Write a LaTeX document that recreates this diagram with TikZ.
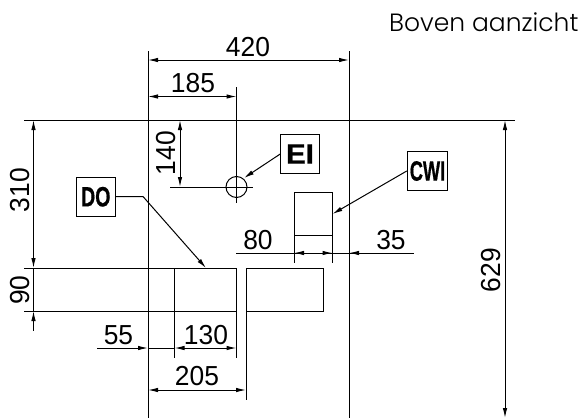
\documentclass[tikz,border=0pt]{standalone}
\usepackage{fontspec}
\usetikzlibrary{arrows.meta}
\setmainfont[FakeStretch=0.96]{Liberation Sans}
\newfontfamily\titlefont[UprightFont={* Light}]{Poppins}
\newfontfamily\tagfont[FakeStretch=0.7,FakeBold=0.6]{Liberation Sans Bold}
\newfontfamily\tagwide[FakeStretch=1.05,FakeBold=0.6]{Liberation Sans Bold}
\newfontfamily\tagnarrow[FakeStretch=0.65,FakeBold=0.6]{Liberation Sans Bold}
\tikzset{
  part/.style={draw=black,line width=1pt},
  dimline/.style={draw=black,line width=1pt},
  dimarrow/.style={dimline,{Latex[length=10pt,width=4.5pt]}-{Latex[length=10pt,width=4.5pt]}},
  endarrow/.style={dimline,-{Latex[length=10pt,width=4.5pt]}},
  dimtext/.style={inner sep=0pt,font=\fontsize{27.5}{27.5}\selectfont},
  tagbox/.style={draw=black,line width=1pt,inner sep=0pt,minimum height=38.5pt},
  titletext/.style={inner sep=0pt,font=\fontsize{25}{25}\selectfont\titlefont}
}
\begin{document}
\begin{tikzpicture}[x=1pt,y=-1pt]
\useasboundingbox (0,0) rectangle (584,418);
% reference axes
\coordinate (L1) at (148,51);   \coordinate (L2) at (148,418);
\coordinate (R1) at (349,51);   \coordinate (R2) at (349,418);
\coordinate (T1) at (24,120);   \coordinate (T2) at (515,120);
\draw[part] (L1) -- (L2);
\draw[part] (R1) -- (R2);
\draw[part] (T1) -- (T2);
% lower plates
\coordinate (PA) at (24,268);  \coordinate (PB) at (236.5,268);
\coordinate (PC) at (24,311);  \coordinate (PD) at (236.5,311);
\coordinate (PE) at (246,268); \coordinate (PF) at (323,311);
\coordinate (PG) at (174.5,268); \coordinate (PH) at (174.5,358);
\coordinate (PI) at (236.5,358); \coordinate (PJ) at (246,400);
\draw[part] (PA) -- (PB);
\draw[part] (PC) -- (PD);
\draw[part] (PG) -- (PH);
\draw[part] (PB) -- (PI);
\draw[part] (PE) -- (PJ);
\draw[part] (PE) rectangle (PF);
% upper box
\coordinate (U1) at (294,192); \coordinate (U2) at (332.5,235);
\coordinate (U3) at (294,263); \coordinate (U4) at (332.5,263);
\coordinate (U6) at (294,235);
\draw[part] (U1) rectangle (U2);
\draw[part] (U6) -- (U3);
\draw[part] (U2) -- (U4);
% hole
\coordinate (C) at (236.5,187);
\node[draw=black,line width=1pt,circle,minimum size=21pt,inner sep=0pt] (hole) at (C) {};
\coordinate (CT) at (236.5,87); \coordinate (CB) at (236.5,203);
\coordinate (CL) at (170,187);  \coordinate (CR) at (253,187);
\draw[part] (CT) -- (CB);
\draw[part] (CL) -- (CR);
% dimension 420 and 185
\coordinate (d420a) at (148,60);   \coordinate (d420b) at (349,60);
\coordinate (d185a) at (148,96.5); \coordinate (d185b) at (236.5,96.5);
\draw[dimarrow] (d420a) -- (d420b);
\draw[dimarrow] (d185a) -- (d185b);
\node[dimtext] (t420) at (248,47) {420};
\node[dimtext] (t185) at (193,83) {185};
% dimension 140
\coordinate (d140a) at (180,120); \coordinate (d140b) at (180,187);
\draw[dimarrow] (d140a) -- (d140b);
\node[dimtext,rotate=90] (t140) at (166.5,153) {140};
% dimension 310, 90
\coordinate (d310a) at (33.5,120); \coordinate (d310b) at (33.5,268);
\coordinate (d90a) at (33.5,311);  \coordinate (d90b) at (33.5,331);
\draw[dimarrow] (d310a) -- (d310b);
\draw[dimline] (d310b) -- (d90a);
\draw[dimline,{Latex[length=10pt,width=4.5pt]}-] (d90a) -- (d90b);
\node[dimtext,rotate=90] (t310) at (20,190) {310};
\node[dimtext,rotate=90] (t90) at (20,290) {90};
% dimension 629
\coordinate (d629a) at (505,120); \coordinate (d629b) at (505,418);
\draw[dimarrow] (d629a) -- (d629b);
\node[dimtext,rotate=90] (t629) at (491,270) {629};
% dimensions 80, 35
\coordinate (d80a) at (236,253); \coordinate (d80b) at (294,253);
\coordinate (d80c) at (332.5,253); \coordinate (d35b) at (349,253); \coordinate (d35c) at (414,253);
\draw[dimline] (d80a) -- (d35c);
\draw[dimarrow] (d80b) -- (d80c);
\draw[dimline,{Latex[length=10pt,width=4.5pt]}-] (d35b) -- (d35c);
\node[dimtext] (t80) at (258,240) {80};
\node[dimtext] (t35) at (391,240) {35};
% dimensions 55, 130, 205
\coordinate (d55a) at (97,348);  \coordinate (d55b) at (148,348);
\coordinate (d130a) at (174.5,348); \coordinate (d130b) at (236.5,348);
\coordinate (d205a) at (148,390); \coordinate (d205b) at (246,390);
\draw[dimline,-{Latex[length=10pt,width=4.5pt]}] (d55a) -- (d55b);
\draw[dimline] (d55b) -- (d130a);
\draw[dimarrow] (d130a) -- (d130b);
\draw[dimarrow] (d205a) -- (d205b);
\node[dimtext] (t55) at (118.5,335) {55};
\node[dimtext] (t130) at (206,335) {130};
\node[dimtext] (t205) at (197,376) {205};
% tags and leaders
\node[tagbox,minimum width=38.5pt,font=\fontsize{28}{28}\selectfont\tagfont] (DO) at (95.75,196.75) {DO};
\node[tagbox,minimum width=38.5pt,font=\fontsize{28}{28}\selectfont\tagwide] (EI) at (300,154) {EI};
\node[tagbox,minimum width=40.5pt,font=\fontsize{28}{28}\selectfont\tagnarrow] (CWI) at (427.5,171) {CWI};
\coordinate (DOk) at (143,196.5); \coordinate (DOe) at (206,268);
\coordinate (EIe) at (244,178);   \coordinate (CWIe) at (332.5,214);
\draw[endarrow] (DO.east) -- (DOk) -- (DOe);
\draw[endarrow] (EI.west) -- (EIe);
\draw[endarrow] (CWI.west) -- (CWIe);
% title
\node[titletext,anchor=base west] (title) at (389,31) {Boven aanzicht};
\end{tikzpicture}
\end{document}
